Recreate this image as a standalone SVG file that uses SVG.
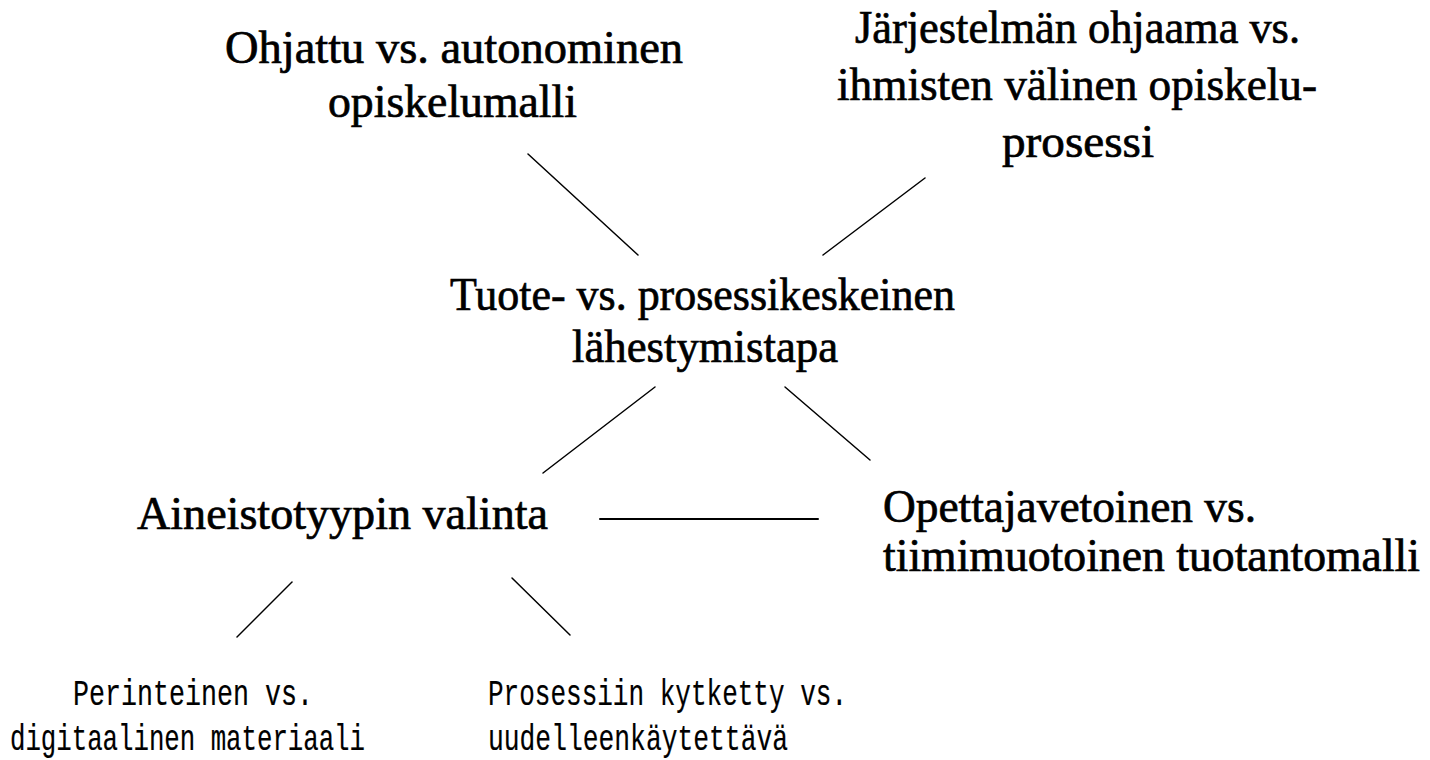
<svg xmlns="http://www.w3.org/2000/svg" width="1430" height="760" viewBox="0 0 1430 760">
<style>
.s{font-family:"Liberation Serif","Times New Roman",serif;font-size:46px;fill:#000;stroke:#000;stroke-width:0.7px}
.m{font-family:"Liberation Mono","Courier New",monospace;font-size:36px;fill:#000;stroke:#000;stroke-width:0.2px}
.c line{stroke:#000;stroke-width:1.5;stroke-linecap:round}
</style>
<rect width="1430" height="760" fill="#fff"/>
<g class="c" id="connectors">
<line x1="528" y1="154" x2="638" y2="255"/>
<line x1="925" y1="178" x2="823" y2="255"/>
<line x1="655" y1="387" x2="543" y2="473"/>
<line x1="785" y1="387" x2="870" y2="460"/>
<line x1="600" y1="519" x2="818" y2="519" style="stroke-width:2"/>
<line x1="292" y1="582" x2="237" y2="637"/>
<line x1="512" y1="578" x2="570" y2="635"/>
</g>
<g id="ohjattu">
<text class="s" x="225" y="63" textLength="458" lengthAdjust="spacingAndGlyphs">Ohjattu vs.  autonominen</text>
<text class="s" x="328" y="117" textLength="249" lengthAdjust="spacingAndGlyphs">opiskelumalli</text>
</g>
<g id="jarjestelma">
<text class="s" x="855" y="43" textLength="445" lengthAdjust="spacingAndGlyphs">Järjestelmän ohjaama vs.</text>
<text class="s" x="837" y="100" textLength="480" lengthAdjust="spacingAndGlyphs">ihmisten välinen opiskelu-</text>
<text class="s" x="1002" y="157" textLength="152" lengthAdjust="spacingAndGlyphs">prosessi</text>
</g>
<g id="tuote">
<text class="s" x="450" y="310" textLength="505" lengthAdjust="spacingAndGlyphs">Tuote- vs. prosessikeskeinen</text>
<text class="s" x="572" y="362" textLength="266" lengthAdjust="spacingAndGlyphs">lähestymistapa</text>
</g>
<g id="aineisto">
<text class="s" x="137" y="529" textLength="411" lengthAdjust="spacingAndGlyphs">Aineistotyypin valinta</text>
</g>
<g id="opettaja">
<text class="s" x="883" y="522" textLength="373" lengthAdjust="spacingAndGlyphs">Opettajavetoinen vs.</text>
<text class="s" x="883" y="571" textLength="537" lengthAdjust="spacingAndGlyphs">tiimimuotoinen tuotantomalli</text>
</g>
<g id="perinteinen">
<text class="m" x="73" y="705" textLength="240" lengthAdjust="spacingAndGlyphs">Perinteinen vs.</text>
<text class="m" x="10" y="750" textLength="355" lengthAdjust="spacingAndGlyphs">digitaalinen materiaali</text>
</g>
<g id="prosessiin">
<text class="m" x="488" y="705" textLength="359" lengthAdjust="spacingAndGlyphs">Prosessiin kytketty vs.</text>
<text class="m" x="488" y="750" textLength="300" lengthAdjust="spacingAndGlyphs">uudelleenkäytettävä</text>
</g>
</svg>
